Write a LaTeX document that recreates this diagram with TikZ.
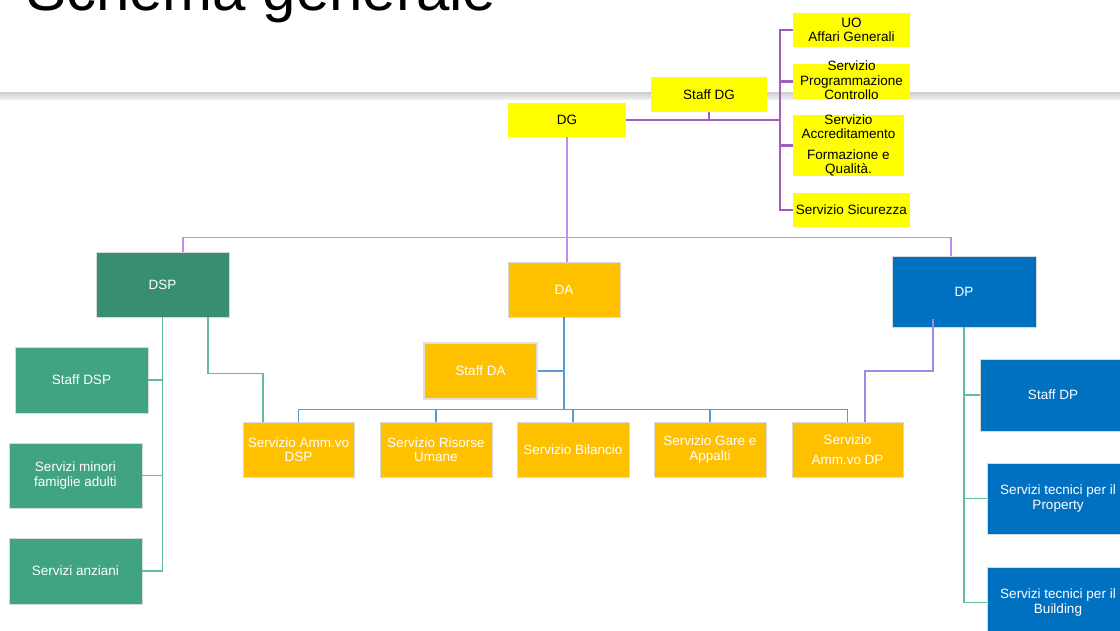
\documentclass[tikz,border=0pt]{standalone}
\usepackage{fontspec}
\setmainfont{Liberation Sans}
\usepackage{tikz}
\usepackage{xcolor}
\usetikzlibrary{positioning}

\definecolor{dgyellow}{RGB}{255,255,0}
\definecolor{dspgreen}{RGB}{56,142,112}
\definecolor{boxgreen}{RGB}{64,163,130}
\definecolor{daorange}{RGB}{255,192,0}
\definecolor{dpblue}{RGB}{0,112,192}
\definecolor{linegreen}{RGB}{96,190,152}
\definecolor{lineblue}{RGB}{91,155,213}
\definecolor{lineviolet}{RGB}{204,136,238}
\definecolor{linepurple}{RGB}{160,92,192}
\definecolor{linelavender}{RGB}{160,136,232}

\tikzset{
	orgbox/.style={rectangle, inner sep={1pt}, align=center, font={\fontsize{13.5}{14.5}\selectfont}},
	ybox/.style={orgbox, fill=dgyellow, text=black},
	dspbox/.style={orgbox, fill=dspgreen, draw=white!85!black, line width={0.6pt}, text=white},
	gbox/.style={orgbox, fill=boxgreen, draw=white!85!black, line width={0.6pt}, text=white},
	obox/.style={orgbox, fill=daorange, draw=white!85!black, line width={0.6pt}, text=white},
	bbox/.style={orgbox, fill=dpblue, draw=white!85!black, line width={0.6pt}, text=white},
	boxtext/.style={align=center, inner sep={0pt}, font={\fontsize{13.5}{14.5}\selectfont}},
	purpleline/.style={draw=linepurple, line width={2.4pt}},
	violetline/.style={draw=lineviolet, line width={1.3pt}},
	greenline/.style={draw=linegreen, line width={1.6pt}},
	blueline/.style={draw=lineblue, line width={1.8pt}},
	lavline/.style={draw=linelavender, line width={2pt}}
}

\begin{document}
\begin{tikzpicture}[x=1pt, y=-1pt]
	\useasboundingbox (0,0) rectangle (1120,631);
	\clip (0,0) rectangle (1120,631);

	\begin{scope}
		\fill[top color=gray!35, bottom color=gray!8] (0,93) rectangle (1120,100);
		\node[anchor=base west, inner sep={0pt}, font={\fontsize{60}{60}\selectfont}] (title) at (26,11) {Schema generale};
	\end{scope}

	\begin{scope}
		\node[ybox, minimum width={118}, minimum height={34}] (dg) at (567,120) {DG};
		\node[ybox, minimum width={116}, minimum height={35}] (staffdg) at (709,94.5) {Staff DG};
		\node[ybox, minimum width={117}, minimum height={34}] (ag) at (851.5,30) {UO\\Affari Generali};
		\node[ybox, minimum width={117}, minimum height={35}] (pc) at (851.5,81.5) {};
		\node[boxtext] (pctext) at (851.5,80.5) {Servizio\\Programmazione\\Controllo};
		\node[ybox, minimum width={111}, minimum height={61}] (acc) at (848.5,145.5) {};
		\node[boxtext] (acctext) at (848.5,145.5) {Servizio\\Accreditamento\\[6pt]Formazione e\\Qualità.};
		\node[ybox, minimum width={117}, minimum height={34}] (sic) at (851.5,210) {Servizio Sicurezza};

		\draw[purpleline] (ag.west) -- ++(-13,0) |- (sic.west);
		\draw[purpleline] (pc.west) -- ++(-13,0);
		\draw[purpleline] (acc.west) -- ++(-13,0);
		\draw[purpleline] (dg.east) -- ++(154,0);
		\draw[purpleline, line width={1.2pt}] (staffdg.south) -- ++(0,8);
	\end{scope}

	\begin{scope}
		\node[dspbox, minimum width={133}, minimum height={65}] (dsp) at (162.5,284.5) {DSP};
		\node[obox, minimum width={112}, minimum height={55}] (da) at (564,289.5) {DA};
		\node[bbox, minimum width={144}, minimum height={71}] (dp) at (964,291.5) {DP};

		\draw[violetline] (dg.south) -- ++(0,100) coordinate (dgbus);
		\draw[violetline] ([xshift=20.5pt]dsp.north) |- (dgbus) -| ([xshift=-13pt]dp.north);
		\draw[violetline] (dgbus) -- (dgbus |- da.north);
	\end{scope}

	\begin{scope}
		\node[gbox, minimum width={133}, minimum height={66}] (staffdsp) at (81.5,380) {Staff DSP};
		\node[gbox, minimum width={133}, minimum height={65}] (minori) at (75.5,475.5) {Servizi minori\\famiglie adulti};
		\node[gbox, minimum width={133}, minimum height={66}] (anziani) at (75.5,571) {Servizi anziani};

		\draw[greenline] (dsp.south) |- (anziani.east);
		\draw[greenline] (staffdsp.east) -- (staffdsp.east -| dsp.south);
		\draw[greenline] (minori.east) -- (minori.east -| dsp.south);
	\end{scope}

	\begin{scope}
		\node[obox, minimum width={113}, minimum height={56}, draw=gray!25, line width={1.5pt}] (staffda) at (480.5,371) {Staff DA};
		\node[obox, minimum width={111}, minimum height={55}] (ammdsp) at (298.5,449.5) {Servizio Amm.vo\\DSP};
		\node[obox, minimum width={112}, minimum height={55}] (ru) at (436,449.5) {Servizio Risorse\\Umane};
		\node[obox, minimum width={112}, minimum height={55}] (bil) at (573,449.5) {Servizio Bilancio};
		\node[obox, minimum width={112}, minimum height={55}] (gare) at (710,449.5) {Servizio Gare e\\Appalti};
		\node[obox, minimum width={111}, minimum height={55}] (ammdp) at (847.5,449.5) {Servizio\\[5pt]Amm.vo DP};

		\draw[blueline] (da.south) -- ++(0,93) coordinate (dabus);
		\draw[blueline, line width={1.4pt}] (ammdsp.north) -- ++(0,-12) -| (ammdp.north);
		\draw[blueline, line width={1.4pt}] (ru.north) -- ++(0,-12);
		\draw[blueline, line width={1.4pt}] (bil.north) -- ++(0,-12);
		\draw[blueline, line width={1.4pt}] (gare.north) -- ++(0,-12);
		\draw[blueline, line width={1.4pt}] (staffda.east) -- (staffda.east -| da.south);

		\draw[greenline] ([xshift=45.5pt]dsp.south) -- ++(0,56) -| ([xshift=-35.5pt]ammdsp.north);
		\draw[lavline] ([xshift=-31pt, yshift=8pt]dp.south) -- ++(0,52) -| ([xshift=17.5pt]ammdp.north);
	\end{scope}

	\begin{scope}
		\node[bbox, minimum width={146}, minimum height={72}] (staffdp) at (1053,395) {Staff DP};
		\node[bbox, minimum width={142}, minimum height={71}] (property) at (1058,498.5) {Servizi tecnici per il\\Property};
		\node[bbox, minimum width={142}, minimum height={71}] (building) at (1058,602.5) {Servizi tecnici per il\\Building};

		\draw[greenline] (dp.south) |- (building.west);
		\draw[greenline] (staffdp.west) -- (staffdp.west -| dp.south);
		\draw[greenline] (property.west) -- (property.west -| dp.south);
	\end{scope}
\end{tikzpicture}
\end{document}
